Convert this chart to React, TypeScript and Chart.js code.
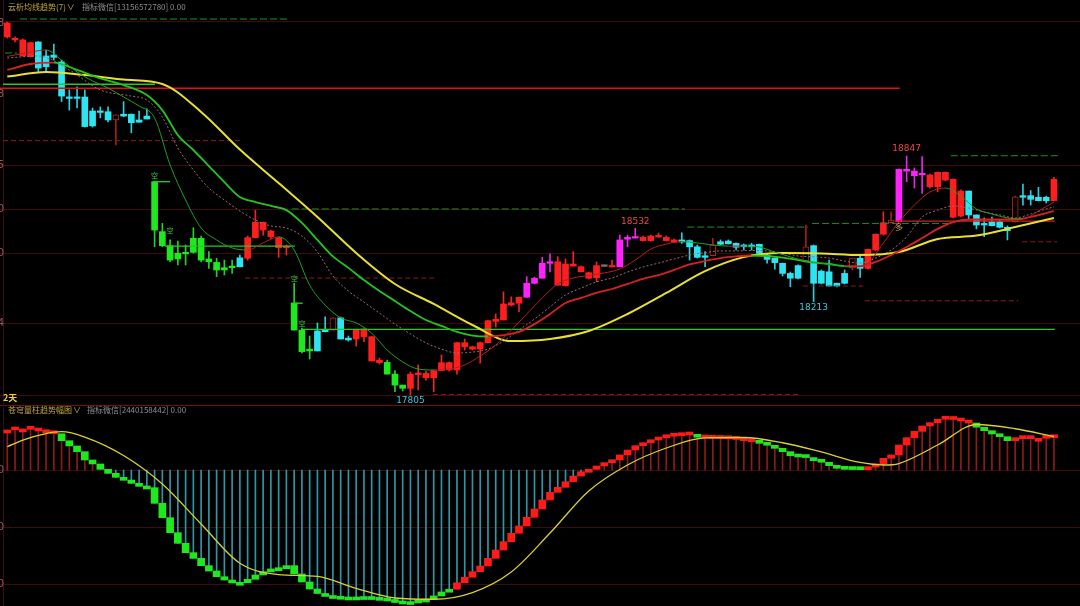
import React, { useEffect, useRef } from 'react';
import { Chart, registerables } from 'chart.js';

Chart.register(...registerables);

// ---------- price candles (index 0..135) ----------
const opens = [19366,19353,19283,19280,19344,19283,19287,19257,19104,19104,19104,19043,19043,19040,19004,19029,19029,19004,19021,18735,18517,18456,18423,18427,18488,18488,18398,18383,18360,18367,18403,18401,18491,18524,18495,18447,18447,18206,18088,18005,18084,18088,18088,18141,18053,18049,18059,17953,17946,17947,17896,17848,17834,17894,17880,17880,17911,17914,17914,18015,18005,18005,18033,18126,18132,18197,18205,18231,18292,18314,18379,18284,18281,18367,18342,18314,18316,18366,18363,18364,18484,18489,18478,18478,18494,18478,18472,18481,18478,18451,18412,18412,18473,18476,18466,18459,18459,18462,18415,18401,18379,18335,18369,18389,18456,18345,18342,18292,18335,18359,18401,18357,18437,18506,18556,18560,18781,18761,18765,18713,18713,18742,18580,18585,18694,18590,18553,18560,18560,18536,18560,18674,18674,18667,18667,18652];
const highs = [19431,19366,19357,19344,19346,19309,19335,19265,19135,19148,19135,19056,19061,19061,19026,19084,19030,19043,19052,18735,18553,18481,18476,18459,18534,18498,18430,18401,18393,18393,18415,18498,18611,18559,18524,18494,18459,18292,18097,18062,18119,18146,18141,18145,18062,18088,18093,18062,17966,17957,17911,17848,17905,17936,17909,17914,17979,17949,18036,18049,18018,18036,18132,18158,18255,18233,18232,18321,18319,18405,18420,18408,18398,18430,18367,18341,18385,18372,18393,18502,18502,18532,18498,18502,18511,18498,18485,18512,18481,18459,18430,18488,18481,18481,18468,18463,18466,18463,18420,18402,18380,18341,18372,18546,18459,18350,18393,18293,18350,18402,18415,18441,18507,18604,18603,18790,18847,18795,18844,18768,18777,18777,18747,18699,18694,18590,18577,18581,18568,18542,18672,18725,18696,18710,18672,18754];
const lows = [19361,19344,19283,19278,19214,19214,19265,19084,19047,19057,18973,18973,19013,18996,18895,19018,18948,18994,19008,18451,18451,18386,18372,18372,18423,18385,18357,18321,18328,18335,18363,18393,18489,18502,18485,18405,18415,18088,17988,17962,17997,18080,18088,18049,18040,18018,18037,17953,17940,17896,17819,17822,17805,17827,17870,17819,17911,17909,17896,18001,18001,17944,18032,18101,18132,18193,18168,18231,18289,18314,18342,18284,18280,18367,18341,18311,18299,18365,18363,18364,18451,18489,18476,18476,18492,18476,18470,18466,18393,18402,18364,18411,18459,18463,18437,18437,18437,18420,18380,18354,18324,18277,18311,18385,18212,18289,18278,18276,18289,18350,18318,18354,18433,18502,18555,18559,18735,18707,18684,18707,18691,18738,18577,18581,18572,18529,18495,18542,18533,18481,18559,18633,18633,18651,18642,18651];
const closes = [19427,19360,19353,19341,19230,19236,19277,19108,19098,19098,18975,18978,19037,19004,19026,19021,18992,18994,19008,18524,18456,18393,18398,18420,18427,18393,18386,18350,18350,18360,18364,18491,18558,18558,18520,18491,18454,18088,17994,17997,17997,18081,18141,18049,18045,18088,18093,18059,17957,17896,17848,17834,17896,17901,17899,17911,17946,17946,18033,18033,18015,18033,18129,18135,18202,18207,18231,18292,18314,18379,18386,18386,18376,18376,18364,18338,18369,18369,18367,18481,18492,18495,18492,18498,18497,18492,18481,18472,18451,18405,18405,18459,18462,18464,18449,18451,18451,18423,18396,18382,18335,18314,18314,18451,18292,18292,18280,18280,18292,18402,18357,18440,18506,18556,18568,18789,18789,18781,18771,18764,18776,18776,18745,18694,18590,18546,18546,18543,18536,18521,18669,18667,18658,18652,18652,18745];
// R red up, H hollow red up, M magenta up, C cyan down, G green down, X flat
const candleKinds = 'RRRRCCCCCCCCCCHCCCCGGGGGGGGGGGCRRRRRRGGGCCHCCRRRRGGGRRRRRRRRRRRRRRRMMMMRRRRRRXRMMMRRRRRCCCCHCCCCCCCCCCCHCCCCCHCRRRHMMMMRRRRRCCCCCCHCCCCR'.split('');

// ---------- moving averages ----------
const maLongIdx = [0,5,10,15,20,25,30,35,40,45,50,55,60,65,70,75,80,85,90,95,100,105,110,115,120,125,130,135];
const maLong = [19193,19213,19200,19180,19161,19039,18875,18729,18581,18424,18289,18202,18110,18040,18049,18084,18158,18250,18345,18406,18424,18422,18415,18428,18485,18500,18537,18577];
const ma20Idx = [0,3,6,9,12,15,18,20,22,24,26,28,30,32,34,36,38,40,42,44,46,48,50,52,54,56,58,60,62,64,66,68,70,72,74,76,78,80,82,84,86,88,90,92,94,96,98,100,102,104,106,108,110,112,114,116,118,120,122,124,126,128,130,132,134,135];
const ma20 = [19222,19248,19254,19222,19185,19156,19113,19047,18938,18873,18803,18733,18668,18646,18629,18611,18555,18481,18409,18359,18306,18258,18215,18171,18132,18106,18080,18064,18060,18066,18080,18114,18158,18206,18228,18250,18267,18289,18311,18328,18350,18374,18389,18402,18409,18413,18411,18404,18393,18382,18376,18367,18367,18385,18415,18450,18489,18529,18559,18570,18570,18570,18570,18581,18598,18607];
const ma10Idx = [0,4,8,12,16,18,20,22,24,26,28,30,32,34,36,38,40,42,44,46,48,50,52,54,56,58,60,62,64,66,68,70,72,74,76,78,80,82,84,86,88,90,92,94,96,98,100,102,104,106,108,110,112,114,116,118,120,122,124,126,128,130,132,134,135];
const ma10 = [19274,19283,19222,19135,19108,19091,19017,18882,18786,18707,18655,18607,18568,18542,18533,18498,18428,18324,18258,18210,18162,18114,18071,18032,18005,17988,17992,18005,18040,18088,18136,18189,18241,18271,18298,18315,18341,18363,18380,18398,18415,18426,18433,18433,18435,18433,18424,18411,18407,18402,18389,18380,18402,18437,18494,18581,18611,18629,18620,18603,18590,18577,18594,18616,18625];
const ma5Idx = [0,3,5,7,9,11,13,15,17,19,21,23,25,27,29,31,33,35,37,39,41,43,45,47,49,51,53,55,57,59,61,63,65,67,69,71,73,75,77,79,81,83,85,87,89,91,93,95,97,99,101,103,105,107,109,111,113,115,117,119,121,123,125,127,129,131,133,135];
const ma5 = [19281,19300,19309,19265,19213,19174,19143,19104,19065,19013,18808,18655,18533,18481,18446,18437,18468,18494,18437,18284,18197,18141,18119,18075,18001,17949,17918,17914,17918,17936,17975,18023,18088,18158,18228,18289,18315,18326,18337,18354,18393,18441,18463,18474,18468,18459,18454,18454,18450,18428,18407,18389,18380,18369,18363,18380,18468,18559,18633,18690,18707,18672,18616,18594,18577,18572,18607,18646];

// ---------- support / resistance segments ----------
const levelFrom = [1.64,-0.3,-0.55,36.7,30.7,54.9,87.7,103.8,121.7,102.6,110.6,130.9,-0.94,-0.55,18.8,20.3,37,38,114.5];
const levelTo = [36.5,1.25,30.4,87.4,55.4,102.2,103.3,121.6,135.5,110.4,130.4,135.4,115.1,19.05,21,37.1,38.1,135.1,135.1];
const levelPrice = [19444,19296,18914,18616,18315,17807,18537,18553,18848,18280,18216,18473,19142,19160,18735,18454,18205,18091,18563];
const levelStyle = ['gd','gd','rd','gd','rd','rd','gd','gd','gd','rd','rd','rd','R','g','g','g','g','g','r'];

// ---------- annotations ----------
const extremeIdx = [116, 81, 104, 52];
const extremeText = ['18847', '18532', '18213', '17805'];
const extremeAbove = [true, true, false, false];
const kongIdx = [19, 21, 37, 38];
const kongPrice = [18764, 18524, 18315, 18119];
const duoIdx = [115];
const duoPrice = [18537];

// ---------- price grid ----------
const priceGrid = [19437, 18808, 18616, 18424, 18119, 17805];
const priceTickPos = [19427, 19117, 18808, 18616, 18424, 18119];
const priceTickText = ['19428', '19118', '18805', '18610', '18420', '18114'];

// ---------- lower indicator ----------
const volBars = [35.1,36.0,36.0,35.7,34.2,32.7,31.8,25.7,21.1,16.1,
  8.8,5.3,0.6,-2.9,-6.4,-8.8,-11.7,-14.0,-15.5,-29.2,
  -41.8,-55.0,-64.3,-72.5,-77.5,-83.9,-88.6,-93.6,-96.5,-98.5,
  -98.9,-95.9,-92.1,-89.2,-86.8,-85.7,-83.9,-91.2,-98.2,-104.4,
  -108.3,-110.1,-110.8,-111.4,-111.8,-111.4,-111.0,-111.7,-112.3,-113.6,
  -114.9,-116.7,-115.4,-114.0,-113.2,-110.5,-107.0,-104.6,-98.9,-94.1,
  -89.2,-84.2,-77.5,-70.2,-62.9,-55.5,-49.1,-41.5,-34.2,-26.3,
  -19.6,-15.2,-10.3,-5.3,-1.5,0.6,3.5,6.4,8.8,13.2,
  17.5,21.3,23.9,26.3,28.3,29.6,30.1,31.0,30.7,28.7,
  28.1,27.8,27.6,27.4,26.8,25.7,24.8,23.4,21.7,19.0,
  16.1,12.5,11.4,10.9,8.2,6.8,3.8,1.5,0.6,0.4,
  0.3,2.6,5.3,10.3,13.2,21.9,28.3,33.9,38.6,41.5,
  44.5,45.9,44.3,43.0,41.2,37.5,34.5,31.6,29.2,25.7,
  27.8,27.5,27.8,27.8,28.3,29.2];
const volKinds = ('rrrrrrr' + 'g'.repeat(51) + 'r'.repeat(31) + 'g' + 'r'.repeat(7) + 'g'.repeat(14) + 'r'.repeat(14) + 'ggggg' + 'rrrrrr').split('');
const signalIdx = [0,2,5,7,10,15,20,25,30,35,40,45,50,55,60,65,70,75,80,85,90,95,100,105,110,113,115,120,125,130,135];
const signal = [20.4,26.3,32.0,33.6,28.9,12.7,-12.3,-47.4,-81.8,-91.7,-93.4,-103.9,-112.3,-113.4,-107.5,-89.5,-55.3,-18.4,4.4,19.3,28.1,28.5,23.9,15.8,6.6,4.4,5.7,21.9,39.9,36.2,29.4];
const volGrid = [0, -50, -100];
const volGridText = ['0', '-50', '-100'];

// ---------- layout ranges (axes span the whole canvas) ----------
const X_MIN = -0.94, X_MAX = 138.36;
const P_MIN = 16885, P_MAX = 19527;
const V_MIN = -119.3, V_MAX = 412.3;

const bodyColor: Record<string, string> = { R: '#ff1e1e', H: '#000000', M: '#ff22ff', C: '#2ee4f0', G: '#1fe81f', X: '#8a6a6a' };
const edgeColor: Record<string, string> = { R: '#ff1e1e', H: '#b82020', M: '#ff22ff', C: '#2ee4f0', G: '#1fe81f', X: '#8a6a6a' };
const wickColor: Record<string, string> = { R: '#f02424', H: '#a81c1c', M: '#e628e6', C: '#28cfdc', G: '#20d420', X: '#8a6a6a' };

const levelColor: Record<string, string> = { gd: '#1f8f1f', rd: '#8c1a1a', R: '#e01010', g: '#22cc22', r: '#d42020' };

const upDown = (up: string, down: string) => (ctx: any) =>
  ctx.p1.parsed.y >= ctx.p0.parsed.y ? up : down;

export default function App() {
  const ref = useRef<HTMLCanvasElement | null>(null);

  useEffect(() => {
    if (!ref.current) return;
    const idx = opens.map((_, i) => i);

    const wickData = idx.map((i) => ({ x: i, y: [lows[i], highs[i]] }));
    const bodyData = idx.map((i) => ({ x: i, y: [opens[i], closes[i]] }));
    const stemData = volBars.map((v, i) => ({ x: i, y: [0, v] }));
    const boxData = volBars.map((v, i) => ({ x: i, y: [i > 0 ? volBars[i - 1] : v, v] }));

    const pts = (xs: number[], ys: number[]) => xs.map((x, k) => ({ x, y: ys[k] }));

    const levelSets = levelPrice.map((p, k) => ({
      type: 'line' as const,
      yAxisID: 'y',
      data: [{ x: levelFrom[k], y: p }, { x: levelTo[k], y: p }],
      borderColor: levelColor[levelStyle[k]],
      borderWidth: levelStyle[k].length === 2 ? 1 : 1.4,
      borderDash: levelStyle[k] === 'gd' ? [7, 3] : levelStyle[k] === 'rd' ? [5, 3] : [],
      pointRadius: 0,
      order: 7,
    }));

    const gridPlugin = {
      id: 'panelGrid',
      beforeDatasetsDraw(chart: any) {
        const { ctx, scales } = chart;
        const y = scales.y, y2 = scales.y2;
        ctx.save();
        ctx.lineWidth = 1;
        ctx.strokeStyle = '#3e0b0b';
        const hline = (py: number) => {
          const yy = Math.round(py) + 0.5;
          ctx.beginPath(); ctx.moveTo(0, yy); ctx.lineTo(1080, yy); ctx.stroke();
        };
        priceGrid.forEach((p) => hline(y.getPixelForValue(p)));
        volGrid.forEach((v) => hline(y2.getPixelForValue(v)));
        ctx.strokeStyle = '#6a1212';
        hline(y2.getPixelForValue(57));
        ctx.strokeStyle = '#3e0b0b';
        ctx.beginPath(); ctx.moveTo(3.5, 0); ctx.lineTo(3.5, 606); ctx.stroke();
        // cut-off axis labels at the left edge
        ctx.font = '10px "DejaVu Sans"';
        ctx.fillStyle = '#9a5a5a';
        ctx.textAlign = 'right';
        ctx.textBaseline = 'middle';
        priceTickPos.forEach((p, k) => ctx.fillText(priceTickText[k], 4, y.getPixelForValue(p)));
        volGrid.forEach((v, k) => ctx.fillText(volGridText[k], 4, y2.getPixelForValue(v)));
        ctx.restore();
      },
      afterDatasetsDraw(chart: any) {
        const { ctx, scales } = chart;
        const x = scales.x, y = scales.y;
        ctx.save();
        ctx.textAlign = 'center';
        ctx.textBaseline = 'middle';
        ctx.font = '9px "DejaVu Sans"';
        extremeIdx.forEach((i, k) => {
          const px = x.getPixelForValue(i);
          if (extremeAbove[k]) {
            ctx.fillStyle = '#e84a4a';
            ctx.fillText(extremeText[k], px, y.getPixelForValue(highs[i]) - 7);
          } else {
            ctx.fillStyle = '#38c6dc';
            ctx.fillText(extremeText[k], px, y.getPixelForValue(lows[i]) + 6);
          }
        });
        ctx.font = '7px "Noto Sans CJK SC"';
        ctx.fillStyle = '#32cc32';
        kongIdx.forEach((i, k) => ctx.fillText('空', x.getPixelForValue(i), y.getPixelForValue(kongPrice[k])));
        ctx.font = '8px "Noto Sans CJK SC"';
        ctx.fillStyle = '#c9a028';
        duoIdx.forEach((i, k) => ctx.fillText('多', x.getPixelForValue(i), y.getPixelForValue(duoPrice[k])));
        ctx.restore();
      },
    };

    const chart = new Chart(ref.current, {
      type: 'bar',
      data: {
        datasets: [
          {
            type: 'bar', yAxisID: 'y', data: wickData as any, grouped: false, barThickness: 1,
            backgroundColor: candleKinds.map((k) => wickColor[k]), order: 20,
          },
          {
            type: 'bar', yAxisID: 'y', data: bodyData as any, grouped: false, barThickness: 6, minBarLength: 1.5,
            backgroundColor: candleKinds.map((k) => bodyColor[k]),
            borderColor: candleKinds.map((k) => edgeColor[k]),
            borderWidth: candleKinds.map((k) => (k === 'H' ? 1 : 0)),
            borderSkipped: false, order: 19,
          },
          {
            type: 'bar', yAxisID: 'y2', data: stemData as any, grouped: false, barThickness: 1,
            backgroundColor: volBars.map((v) => (v >= 0 ? '#8c1c1c' : '#2f96a6')), order: 20,
          },
          {
            type: 'bar', yAxisID: 'y2', data: boxData as any, grouped: false, barThickness: 7, minBarLength: 3,
            backgroundColor: volKinds.map((k) => (k === 'r' ? '#ff1a1a' : '#1fe81f')), order: 19,
          },
          ...levelSets,
          {
            type: 'line', yAxisID: 'y', data: pts(maLongIdx, maLong), borderColor: '#e8e030', borderWidth: 2,
            pointRadius: 0, cubicInterpolationMode: 'monotone', order: 4,
          },
          {
            type: 'line', yAxisID: 'y', data: pts(ma20Idx, ma20), borderWidth: 1.8, borderColor: '#d82222',
            segment: { borderColor: upDown('#d82222', '#22c422') },
            pointRadius: 0, cubicInterpolationMode: 'monotone', order: 3,
          },
          {
            type: 'line', yAxisID: 'y', data: pts(ma10Idx, ma10), borderWidth: 1, borderColor: '#9c6a74',
            borderDash: [2, 2], pointRadius: 0, cubicInterpolationMode: 'monotone', order: 5,
          },
          {
            type: 'line', yAxisID: 'y', data: pts(ma5Idx, ma5), borderWidth: 1, borderColor: '#b01e1e',
            segment: { borderColor: upDown('#b81e1e', '#1fa01f') },
            pointRadius: 0, cubicInterpolationMode: 'monotone', order: 2,
          },
          {
            type: 'line', yAxisID: 'y2', data: pts(signalIdx, signal), borderColor: '#d8d030', borderWidth: 1.3,
            pointRadius: 0, cubicInterpolationMode: 'monotone', order: 1,
          },
        ] as any,
      },
      options: {
        responsive: false,
        animation: false,
        events: [],
        layout: { padding: 0 },
        plugins: { legend: { display: false }, tooltip: { enabled: false } },
        scales: {
          x: { type: 'linear', min: X_MIN, max: X_MAX, display: false, offset: false },
          y: { type: 'linear', min: P_MIN, max: P_MAX, display: false },
          y2: { type: 'linear', min: V_MIN, max: V_MAX, display: false },
        },
      } as any,
      plugins: [gridPlugin],
    });
    return () => chart.destroy();
  }, []);

  const titleFont = '8px "Noto Sans CJK SC", "Noto Sans", sans-serif';
  return (
    <div style={{ position: 'fixed', left: 0, top: 0, width: 1080, height: 606, background: '#000', overflow: 'hidden' }}>
      <canvas ref={ref} width={1080} height={606} style={{ position: 'absolute', left: 0, top: 0, width: 1080, height: 606 }} />
      <div style={{ position: 'absolute', left: 8, top: 1, font: titleFont, lineHeight: '12px', color: '#c2a83a', whiteSpace: 'nowrap' }}>
        云析均线趋势(7)<span style={{ marginLeft: 1 }}>∨</span>
      </div>
      <div style={{ position: 'absolute', left: 82, top: 1, font: titleFont, lineHeight: '12px', color: '#8e8e8e', whiteSpace: 'nowrap' }}>
        指标微信[13156572780] 0.00
      </div>
      <div style={{ position: 'absolute', left: 3, top: 392, font: 'bold 9px "Noto Sans CJK SC", sans-serif', lineHeight: '11px', color: '#e8d040', whiteSpace: 'nowrap' }}>
        2天
      </div>
      <div style={{ position: 'absolute', left: 8, top: 404, font: titleFont, lineHeight: '12px', color: '#c2a83a', whiteSpace: 'nowrap' }}>
        苍穹量柱趋势幅图<span style={{ marginLeft: 1 }}>∨</span>
      </div>
      <div style={{ position: 'absolute', left: 87, top: 404, font: titleFont, lineHeight: '12px', color: '#8e8e8e', whiteSpace: 'nowrap' }}>
        指标微信[2440158442] 0.00
      </div>
    </div>
  );
}
